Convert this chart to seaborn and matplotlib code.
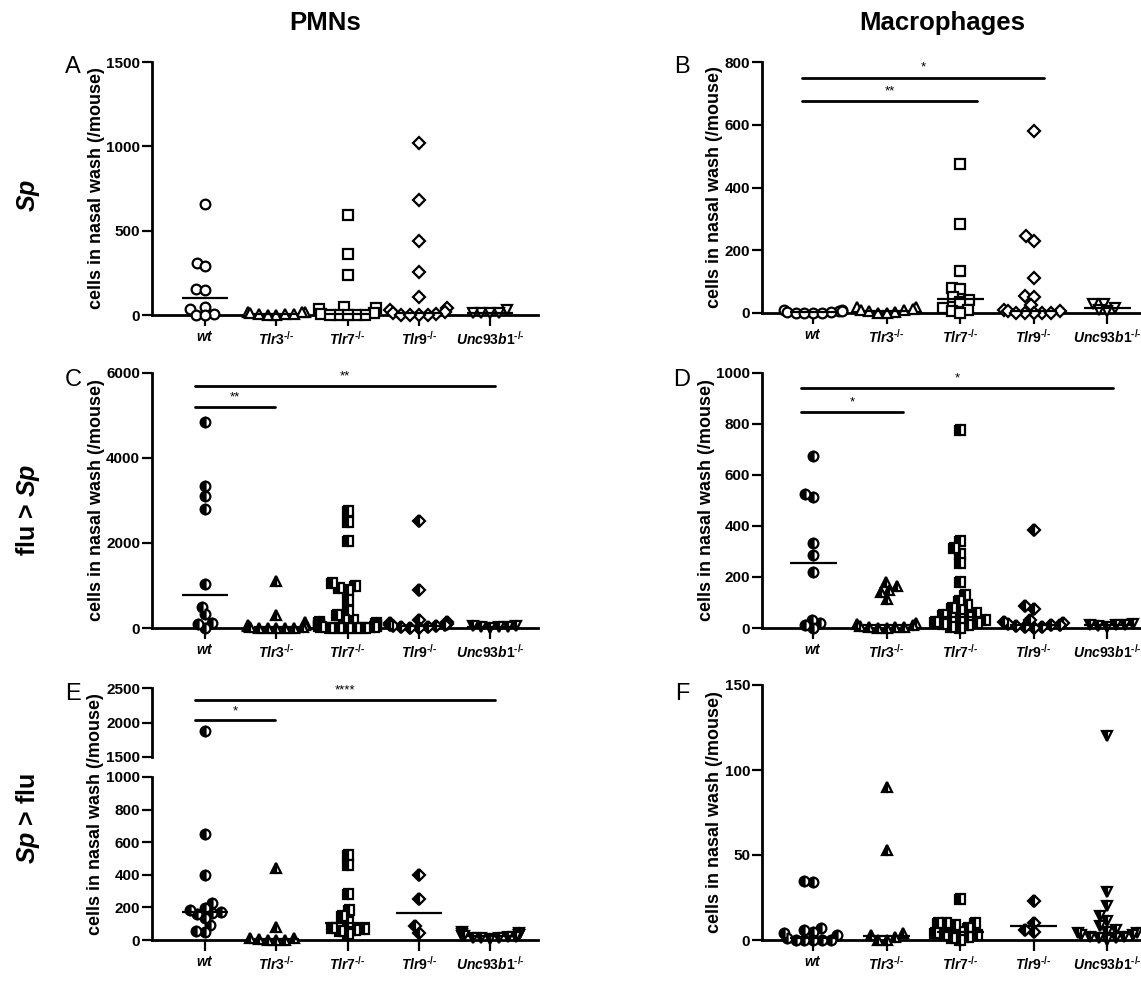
import warnings
import numpy as np
import matplotlib
matplotlib.use("Agg")
import matplotlib.pyplot as plt
import seaborn as sns

warnings.filterwarnings("ignore")

sns.set_style("ticks")
plt.rcParams["font.family"] = ["Liberation Sans", "DejaVu Sans"]
plt.rcParams["font.weight"] = "bold"
plt.rcParams["mathtext.fontset"] = "custom"
plt.rcParams["mathtext.rm"] = "Liberation Sans:bold"
plt.rcParams["mathtext.it"] = "Liberation Sans:bold:italic"
plt.rcParams["mathtext.bf"] = "Liberation Sans:bold"
for k in ["text.color", "axes.labelcolor", "xtick.color", "ytick.color", "axes.edgecolor"]:
    plt.rcParams[k] = "black"

genotypes = ["wt", "Tlr3", "Tlr7", "Tlr9", "Unc93b1"]
geno_labels = [r"$\mathit{wt}$", r"$\mathit{Tlr3}^{‐/‐}$", r"$\mathit{Tlr7}^{‐/‐}$",
               r"$\mathit{Tlr9}^{‐/‐}$", r"$\mathit{Unc93b1}^{‐/‐}$"]
markers = ["o", "^", "s", "D", "v"]
marker_sizes = [7, 7, 7, 6.2, 7]

# A: PMNs, Sp
pmn_sp = [
    [660, 310, 290, 155, 150, 50, 35, 5, 0, 0],
    [20, 18, 15, 10, 8, 5, 3, 0, 0],
    [590, 360, 240, 45, 40, 35, 10, 5, 0, 0, 0, 0, 0],
    [1020, 680, 440, 255, 105, 40, 30, 15, 10, 5, 0, 0, 0, 0],
    [30, 10, 10, 10, 10],
]
pmn_sp_median = [100, 5, 5, 10, 10]

# B: Macrophages, Sp
mac_sp = [
    [10, 8, 5, 5, 3, 2, 1, 0, 0, 0],
    [20, 18, 12, 10, 8, 5, 3, 0, 0],
    [475, 285, 135, 80, 75, 50, 40, 35, 15, 10, 5, 0],
    [580, 245, 230, 110, 55, 50, 25, 10, 5, 5, 0, 0, 0, 0, 0],
    [30, 30, 15, 10, 5],
]
mac_sp_median = [3, 5, 45, 5, 15]

# C: PMNs, flu > Sp
pmn_flusp = [
    [4850, 3350, 3100, 2800, 1030, 500, 320, 120, 100, 0],
    [1100, 300, 150, 80, 60, 40, 30, 20, 10, 5, 0, 0, 0],
    [2750, 2500, 2050, 1050, 1000, 950, 900, 650, 400, 300, 200, 180, 150, 120,
     100, 80, 60, 50, 40, 30, 20, 10, 5, 0, 0, 0],
    [2520, 900, 200, 150, 120, 100, 80, 60, 50, 40, 30, 20, 10, 0],
    [50, 40, 30, 30, 20, 10],
]
pmn_flusp_median = [780, 30, 110, 55, 30]

# D: Macrophages, flu > Sp
mac_flusp = [
    [675, 525, 515, 335, 285, 220, 33, 20, 10, 0],
    [180, 165, 150, 140, 115, 20, 15, 10, 8, 5, 5, 3, 0, 0],
    [775, 340, 315, 290, 255, 180, 130, 105, 90, 80, 70, 60, 50, 45, 40, 35,
     30, 25, 20, 15, 10, 5, 0],
    [385, 85, 75, 30, 25, 20, 15, 12, 10, 8, 5, 3, 0],
    [15, 12, 10, 10, 8, 5],
]
mac_flusp_median = [255, 10, 45, 12, 10]

# E: PMNs, Sp > flu
pmn_spflu = [
    [1870, 650, 400, 225, 195, 185, 170, 165, 160, 135, 90, 55, 50],
    [440, 80, 15, 10, 5, 0, 0, 0],
    [520, 460, 280, 185, 150, 110, 75, 65, 60, 55, 35],
    [400, 250, 85, 40],
    [50, 40, 35, 30, 28, 25, 22, 20, 18, 15, 12, 10, 8],
]
pmn_spflu_median = [170, 5, 105, 165, 22]

# F: Macrophages, Sp > flu
mac_spflu = [
    [35, 34, 7, 6, 5, 4, 3, 1, 0, 0, 0, 0, 0],
    [90, 53, 4, 3, 2, 0, 0],
    [24, 10, 10, 10, 9, 7, 5, 4, 3, 3, 2, 1, 0],
    [23, 10, 6, 5],
    [120, 28, 20, 14, 11, 8, 6, 5, 4, 4, 3, 3, 2, 2, 1, 1, 0],
]
mac_spflu_median = [1, 2.5, 5, 8, 4]

W, H = 1141, 981
fig = plt.figure(figsize=(W / 100, H / 100), dpi=100)


def add_axes(x0, x1, ytop, ybot):
    return fig.add_axes([x0 / W, 1 - ybot / H, (x1 - x0) / W, (ybot - ytop) / H])


ax_a = add_axes(152, 538, 62, 315)
ax_b = add_axes(762, 1141, 62, 313)
ax_c = add_axes(152, 538, 373, 628)
ax_d = add_axes(762, 1141, 373, 628)
ax_e1 = add_axes(152, 538, 688, 757)
ax_e2 = add_axes(152, 538, 777, 940)
ax_f = add_axes(762, 1141, 685, 940)

pending = []


def swarm(ax, groups, half):
    for i, vals in enumerate(groups):
        if len(vals) == 0:
            continue
        n0 = len(ax.collections)
        sns.swarmplot(x=[genotypes[i]] * len(vals), y=vals, order=genotypes,
                      size=6, color="k", ax=ax)
        pending.append((ax, list(ax.collections[n0:]), i, half))


def style(ax, ylim, yticks, xlim, xaxis=True):
    ax.set_ylim(*ylim)
    ax.set_xlim(*xlim)
    ax.set_yticks(yticks)
    ax.set_yticklabels([str(t) for t in yticks], fontsize=11, fontweight="bold")
    for s in ["top", "right"]:
        ax.spines[s].set_visible(False)
    ax.spines["left"].set_linewidth(2)
    ax.spines["bottom"].set_linewidth(2)
    ax.tick_params(axis="y", direction="out", length=7.5, width=1.6, pad=1)
    if xaxis:
        ax.set_xticks(range(len(genotypes)))
        ax.set_xticklabels(geno_labels, fontsize=10)
        ax.tick_params(axis="x", direction="out", length=8, width=1.6, pad=3)
    else:
        ax.spines["bottom"].set_visible(False)
        ax.set_xticks([])
    ax.set_xlabel("")
    ax.set_ylabel("")


def medians(ax, vals):
    pos = np.arange(len(vals))
    ax.hlines(vals, pos - 0.32, pos + 0.32, color="k", lw=1.6, zorder=5, clip_on=False)


def sig(ax, x0, x1, y, label, dy):
    ax.plot([x0, x1], [y, y], color="k", lw=2, clip_on=False)
    ax.text((x0 + x1) / 2, y + dy, label, ha="center", va="bottom", fontsize=9.5,
            fontweight="normal")


left_x = (-0.744, 4.67)
right_x = (-0.694, 4.46)

swarm(ax_a, pmn_sp, False)
swarm(ax_b, mac_sp, False)
swarm(ax_c, pmn_flusp, True)
swarm(ax_d, mac_flusp, True)
swarm(ax_e1, [[v for v in g if v > 1000] for g in pmn_spflu], True)
swarm(ax_e2, [[v for v in g if v <= 1000] for g in pmn_spflu], True)
swarm(ax_f, mac_spflu, True)

style(ax_a, (0, 1500), [0, 500, 1000, 1500], left_x)
style(ax_b, (0, 800), [0, 200, 400, 600, 800], right_x)
style(ax_c, (0, 6000), [0, 2000, 4000, 6000], left_x)
style(ax_d, (0, 1000), [0, 200, 400, 600, 800, 1000], right_x)
style(ax_e1, (1500, 2500), [1500, 2000, 2500], left_x, xaxis=False)
style(ax_e2, (0, 1000), [0, 200, 400, 600, 800, 1000], left_x)
style(ax_f, (0, 150), [0, 50, 100, 150], right_x)

medians(ax_a, pmn_sp_median)
medians(ax_b, mac_sp_median)
medians(ax_c, pmn_flusp_median)
medians(ax_d, mac_flusp_median)
medians(ax_e2, pmn_spflu_median)
medians(ax_f, mac_spflu_median)

sig(ax_b, -0.15, 3.14, 750, "*", 12)
sig(ax_b, -0.15, 2.23, 676, "**", 12)
sig(ax_c, -0.14, 4.07, 5685, "**", 90)
sig(ax_c, -0.14, 0.98, 5190, "**", 90)
sig(ax_d, -0.16, 4.08, 941, "*", 15)
sig(ax_d, -0.16, 1.22, 846, "*", 15)
sig(ax_e1, -0.14, 4.07, 2333, "****", 40)
sig(ax_e1, -0.14, 0.98, 2033, "*", 40)

ylab = "cells in nasal wash (/mouse)"
for ax in [ax_a, ax_b, ax_c, ax_d, ax_f]:
    ax.set_ylabel(ylab, fontsize=13, fontweight="bold", labelpad=1)
fig.text(96 / W, 1 - 814 / H, ylab, rotation=90, ha="center", va="center",
         fontsize=13, fontweight="bold")

for letter, x, y in [("A", 73, 67), ("B", 682, 67), ("C", 73, 380),
                     ("D", 682, 380), ("E", 73, 694), ("F", 682, 694)]:
    fig.text(x / W, 1 - y / H, letter, ha="center", va="center", fontsize=17,
             fontweight="normal")

fig.text(325 / W, 1 - 23 / H, "PMNs", ha="center", va="center", fontsize=18.5,
         fontweight="bold")
fig.text(942 / W, 1 - 23 / H, "Macrophages", ha="center", va="center",
         fontsize=18.5, fontweight="bold")
for label, y in [(r"$\mathit{Sp}$", 195), (r"flu > $\mathit{Sp}$", 510),
                 (r"$\mathit{Sp}$ > flu", 818)]:
    fig.text(28 / W, 1 - y / H, label, rotation=90, ha="center", va="center",
             fontsize=18, fontweight="bold")

# let seaborn lay out the swarms, then redraw them with the GraphPad-style markers
fig.canvas.draw()
for ax, colls, i, half in pending:
    parts = [np.asarray(c.get_offsets()) for c in colls]
    parts = [p for p in parts if p.size]
    for c in colls:
        c.remove()
    if not parts:
        continue
    xy = np.vstack(parts)
    if half:
        ax.plot(xy[:, 0], xy[:, 1], ls="none", marker=markers[i], ms=marker_sizes[i],
                mec="k", mew=1.6, fillstyle="left", mfc="k",
                markerfacecoloralt="white", clip_on=False, zorder=3)
    else:
        ax.plot(xy[:, 0], xy[:, 1], ls="none", marker=markers[i], ms=marker_sizes[i],
                mec="k", mew=1.6, mfc="white", clip_on=False, zorder=3)

fig.savefig("out.png", dpi=100)
